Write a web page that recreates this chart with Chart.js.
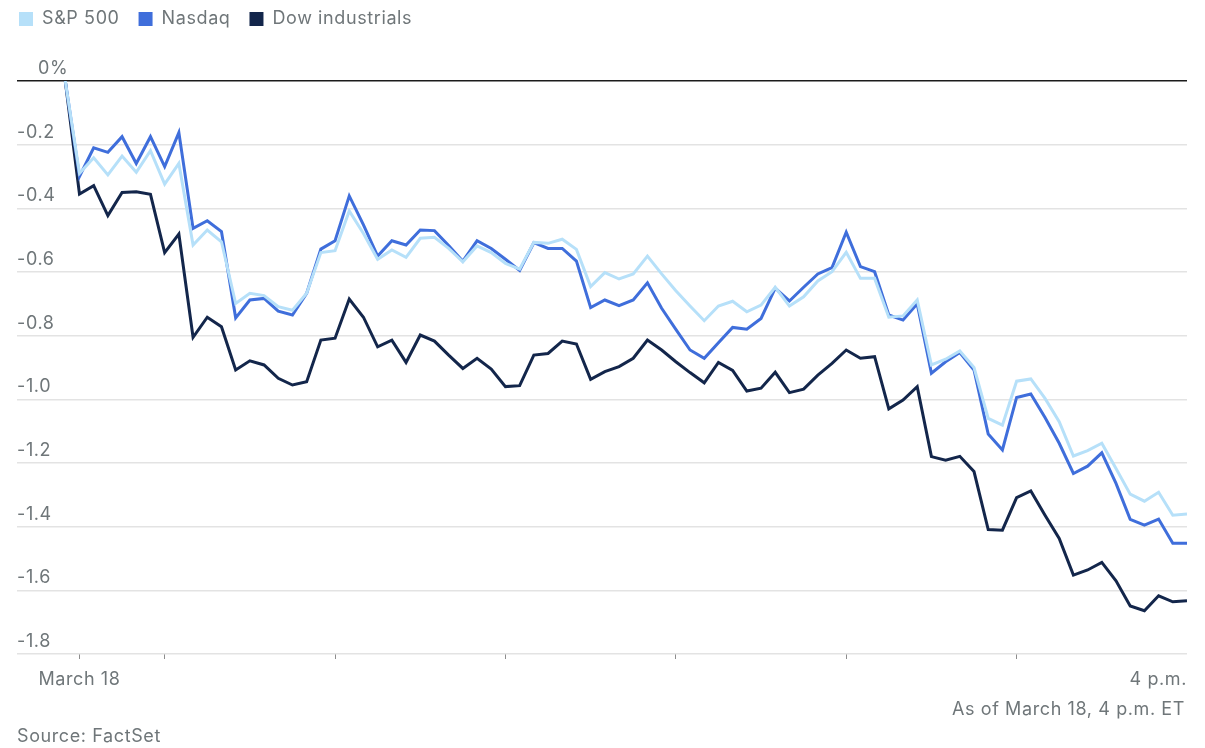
<!DOCTYPE html>
<html>
<head>
<meta charset="utf-8">
<script src="https://cdn.jsdelivr.net/npm/chart.js@4.4.1/dist/chart.umd.min.js"></script>
<style>
  html, body { margin: 0; padding: 0; background: #fff; }
  #wrap { position: relative; width: 1205px; height: 748px; }
</style>
</head>
<body>
<div id="wrap"><canvas id="marketChart"></canvas></div>
<script>
// 5-minute marks, first one is the previous close
var times = ['9:25', '9:30', '9:35', '9:40', '9:45', '9:50', '9:55',
	'10:00', '10:05', '10:10', '10:15', '10:20', '10:25', '10:30', '10:35', '10:40', '10:45', '10:50', '10:55',
	'11:00', '11:05', '11:10', '11:15', '11:20', '11:25', '11:30', '11:35', '11:40', '11:45', '11:50', '11:55',
	'12:00', '12:05', '12:10', '12:15', '12:20', '12:25', '12:30', '12:35', '12:40', '12:45', '12:50', '12:55',
	'13:00', '13:05', '13:10', '13:15', '13:20', '13:25', '13:30', '13:35', '13:40', '13:45', '13:50', '13:55',
	'14:00', '14:05', '14:10', '14:15', '14:20', '14:25', '14:30', '14:35', '14:40', '14:45', '14:50', '14:55',
	'15:00', '15:05', '15:10', '15:15', '15:20', '15:25', '15:30', '15:35', '15:40', '15:45', '15:50', '15:55',
	'16:00'];

var spx = [0, -0.29, -0.241, -0.295, -0.236, -0.287, -0.219, -0.324, -0.259, -0.515,
	-0.468, -0.505, -0.699, -0.667, -0.674, -0.709, -0.72, -0.667, -0.539, -0.533,
	-0.408, -0.479, -0.56, -0.531, -0.554, -0.494, -0.491, -0.526, -0.568, -0.518,
	-0.539, -0.573, -0.591, -0.507, -0.51, -0.497, -0.529, -0.646, -0.602, -0.622,
	-0.606, -0.55, -0.606, -0.659, -0.707, -0.753, -0.707, -0.692, -0.725, -0.704,
	-0.648, -0.707, -0.678, -0.628, -0.599, -0.538, -0.62, -0.62, -0.742, -0.738,
	-0.688, -0.892, -0.874, -0.848, -0.9, -1.06, -1.081, -0.943, -0.936, -0.997,
	-1.07, -1.178, -1.161, -1.138, -1.217, -1.298, -1.32, -1.292, -1.364, -1.36];

var nasdaq = [0, -0.30, -0.21, -0.224, -0.175, -0.259, -0.175, -0.269, -0.162, -0.463,
	-0.439, -0.473, -0.744, -0.688, -0.683, -0.723, -0.735, -0.667, -0.528, -0.502,
	-0.361, -0.452, -0.55, -0.502, -0.515, -0.468, -0.47, -0.517, -0.566, -0.502,
	-0.526, -0.56, -0.595, -0.508, -0.526, -0.526, -0.566, -0.712, -0.688, -0.706,
	-0.688, -0.634, -0.714, -0.78, -0.845, -0.871, -0.822, -0.774, -0.78, -0.746,
	-0.651, -0.691, -0.648, -0.606, -0.586, -0.475, -0.583, -0.599, -0.735, -0.751,
	-0.70, -0.918, -0.882, -0.853, -0.908, -1.109, -1.159, -0.994, -0.983, -1.057,
	-1.138, -1.233, -1.21, -1.168, -1.264, -1.377, -1.395, -1.376, -1.452, -1.452];

var dow = [0, -0.355, -0.329, -0.423, -0.35, -0.348, -0.356, -0.539, -0.481, -0.805,
	-0.742, -0.772, -0.908, -0.879, -0.892, -0.934, -0.955, -0.945, -0.814, -0.808,
	-0.685, -0.742, -0.835, -0.814, -0.884, -0.798, -0.817, -0.861, -0.903, -0.871,
	-0.905, -0.96, -0.957, -0.861, -0.856, -0.817, -0.826, -0.937, -0.913, -0.897,
	-0.871, -0.814, -0.845, -0.882, -0.916, -0.948, -0.884, -0.909, -0.974, -0.965,
	-0.915, -0.979, -0.968, -0.924, -0.887, -0.845, -0.871, -0.866, -1.03, -1.002,
	-0.96, -1.18, -1.191, -1.179, -1.227, -1.409, -1.411, -1.309, -1.288, -1.364,
	-1.437, -1.552, -1.536, -1.512, -1.57, -1.649, -1.664, -1.617, -1.636, -1.633];

var seriesNames = ['S&P 500', 'Nasdaq', 'Dow industrials'];

var xTickTimes = ['9:30', '10:00', '11:00', '12:00', '13:00', '14:00', '15:00', '16:00'];
var xTickLabels = ['March 18', '', '', '', '', '', '', '4 p.m.'];

var yTickValues = [-1.8, -1.6, -1.4, -1.2, -1.0, -0.8, -0.6, -0.4, -0.2, 0];
var yTickLabels = ['-1.8', '-1.6', '-1.4', '-1.2', '-1.0', '-0.8', '-0.6', '-0.4', '-0.2', '0%'];

var NOTE_TEXT = 'As of March 18, 4 p.m. ET';
var SOURCE_TEXT = 'Source: FactSet';

var COLOR_SPX = '#b6e0f9';
var COLOR_NASDAQ = '#3f6edb';
var COLOR_DOW = '#13264b';
var COLOR_TEXT = '#6f7679';
var COLOR_GRID = '#e3e3e3';
var FONT_FAMILY = 'Inter, Roboto, sans-serif';
var LETTER_SPACING = '0.6px';
var X_MIN = -22; // minutes before the open, leaves room for the y labels

// minutes after 9:30
var toMinutes = function(t) {
	var p = t.split(':');
	return (+p[0]) * 60 + (+p[1]) - 570;
};

var toPoints = function(values) {
	return values.map(function(v, i) {
		return { x: toMinutes(times[i]), y: v };
	});
};

var xTickValues = xTickTimes.map(toMinutes);

// the source type is a bit wider than Inter, open it up slightly
var spacing = {
	id: 'spacing',
	beforeLayout: function(chart) { chart.ctx.letterSpacing = LETTER_SPACING; },
	beforeDraw: function(chart) { chart.ctx.letterSpacing = LETTER_SPACING; }
};

var legendSpacer = {
	id: 'legendSpacer',
	beforeInit: function(chart) {
		var fit = chart.legend.fit;
		chart.legend.fit = function() {
			fit.call(this);
			this.height = 90;
		};
	}
};

var sideTexts = {
	id: 'sideTexts',
	afterDraw: function(chart) {
		var ctx = chart.ctx;
		var yScale = chart.scales.y;
		ctx.save();
		ctx.letterSpacing = LETTER_SPACING;
		ctx.font = '18px ' + FONT_FAMILY;
		ctx.fillStyle = COLOR_TEXT;
		ctx.textBaseline = 'alphabetic';
		ctx.textAlign = 'left';
		yTickValues.forEach(function(v, i) {
			var x = v === 0 ? 38 : 17;
			ctx.fillText(yTickLabels[i], x, yScale.getPixelForValue(v) - 7);
		});
		ctx.textAlign = 'right';
		ctx.fillText(NOTE_TEXT, 1185, 715);
		ctx.textAlign = 'left';
		ctx.fillText(SOURCE_TEXT, 17, 742);
		ctx.restore();
	}
};

var handleRenderChart = function() {
	Chart.defaults.font.family = FONT_FAMILY;
	Chart.defaults.font.size = 18;
	Chart.defaults.color = COLOR_TEXT;

	var lineSet = function(label, data, color) {
		return {
			label: label,
			data: toPoints(data),
			borderColor: color,
			backgroundColor: color,
			borderWidth: 3,
			pointRadius: 0,
			tension: 0,
			fill: false
		};
	};

	new Chart(document.getElementById('marketChart'), {
		type: 'line',
		data: {
			datasets: [
				lineSet(seriesNames[0], spx, COLOR_SPX),
				lineSet(seriesNames[1], nasdaq, COLOR_NASDAQ),
				lineSet(seriesNames[2], dow, COLOR_DOW)
			]
		},
		options: {
			responsive: true,
			maintainAspectRatio: false,
			animation: false,
			layout: { padding: { left: 0, right: 18, top: -9, bottom: 0 } },
			plugins: {
				tooltip: { enabled: false },
				legend: {
					position: 'top',
					align: 'start',
					labels: {
						boxWidth: 14,
						boxHeight: 14,
						padding: 19,
						color: COLOR_TEXT,
						font: { size: 18 },
						generateLabels: function(chart) {
							return chart.data.datasets.map(function(ds, i) {
								return {
									text: ds.label,
									fillStyle: ds.borderColor,
									strokeStyle: ds.borderColor,
									lineWidth: 0,
									hidden: false,
									datasetIndex: i,
									fontColor: COLOR_TEXT
								};
							});
						}
					}
				}
			},
			scales: {
				x: {
					type: 'linear',
					min: X_MIN,
					max: xTickValues[xTickValues.length - 1],
					afterBuildTicks: function(scale) {
						scale.ticks = [{ value: X_MIN }].concat(xTickValues.map(function(v) { return { value: v }; }));
					},
					afterFit: function(scale) { scale.height = 94; },
					border: { display: false },
					grid: {
						drawOnChartArea: false,
						drawTicks: true,
						tickLength: 5,
						lineWidth: 1,
						tickColor: function(c) {
							var v = c.tick ? c.tick.value : null;
							return (v === X_MIN || v === xTickValues[xTickValues.length - 1]) ? 'rgba(0,0,0,0)' : '#8d8d8d';
						}
					},
					ticks: {
						autoSkip: false,
						maxRotation: 0,
						align: 'inner',
						padding: 10,
						color: COLOR_TEXT,
						callback: function(value) {
							var k = xTickValues.indexOf(value);
							return k >= 0 ? xTickLabels[k] : '';
						}
					}
				},
				y: {
					min: yTickValues[0],
					max: yTickValues[yTickValues.length - 1],
					afterBuildTicks: function(scale) {
						scale.ticks = yTickValues.map(function(v) { return { value: v }; });
					},
					afterFit: function(scale) { scale.width = 17; },
					border: { display: false },
					grid: {
						drawTicks: false,
						color: function(c) { return c.tick && c.tick.value === 0 ? '#1b1b1b' : COLOR_GRID; },
						lineWidth: 1.5
					},
					ticks: { display: false }
				}
			}
		},
		plugins: [spacing, legendSpacer, sideTexts]
	});
};

handleRenderChart();
</script>
</body>
</html>
